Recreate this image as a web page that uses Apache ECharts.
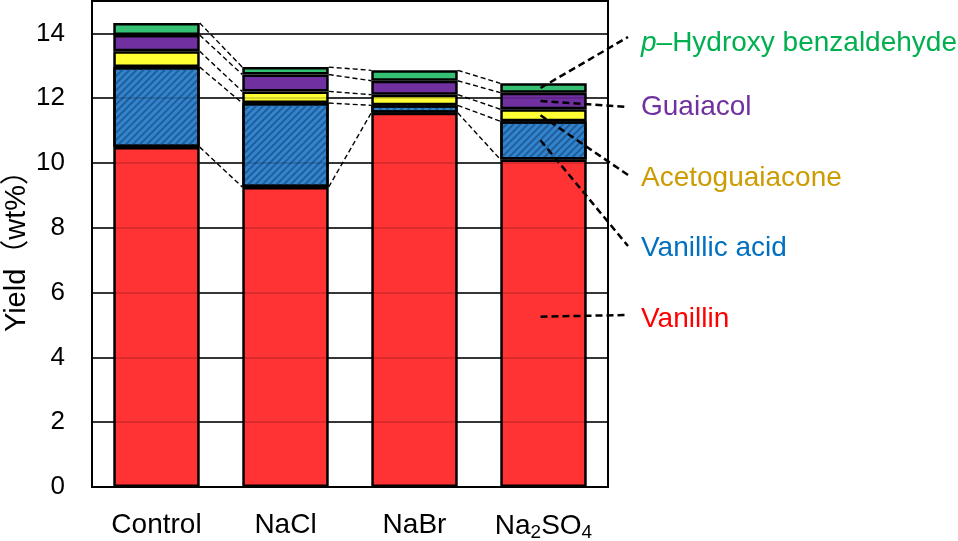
<!DOCTYPE html>
<html>
<head>
<meta charset="utf-8">
<script src="https://cdn.jsdelivr.net/npm/echarts@6/dist/echarts.min.js"></script>
<style>
html,body{margin:0;padding:0;background:#fff;}
#chart{width:958px;height:541px;}
</style>
</head>
<body>
<div id="chart"></div>
<script>
// ---- data ----
const categories = ['Control', 'NaCl', 'NaBr', 'Na2SO4'];
const vanillin       = [10.49, 9.26, 11.55, 10.11];
const vanillicAcid   = [2.47, 2.59, 0.23, 1.18];
const acetoguaiacone = [0.49, 0.36, 0.33, 0.37];
const guaiacol       = [0.50, 0.52, 0.43, 0.51];
const pHydroxy       = [0.37, 0.23, 0.32, 0.29];
const yTicks = [0, 2, 4, 6, 8, 10, 12, 14];
const seriesNames = ['Vanillin', 'Vanillic acid', 'Acetoguaiacone', 'Guaiacol', 'p-Hydroxy benzaldehyde'];

// ---- styling ----
const FONT = "'Liberation Sans', 'Noto Sans CJK JP', sans-serif";
const fills = ['#FF3333', '#3384CC', '#FFFF33', '#7030A0', '#35C073'];
const textColors = ['#FF0000', '#0070C0', '#CC9C00', '#7030A0', '#00B050'];
const labelY = [318, 247, 177, 106, 42];   // label centres (layout)
const leaderEndY = [315, 246, 175, 107, 37];
const leaderFrac = [0.52, 0.5, 0.5, 0.5, 0.5];
const BAR_FRAC = 0.67;

const layers = [vanillin, vanillicAcid, acetoguaiacone, guaiacol, pHydroxy];
// cumulative tops
const cum = [];
layers.forEach((arr, k) => {
  cum.push(arr.map((v, i) => (k ? cum[k - 1][i] : 0) + v));
});

const connectorData = [];
for (let k = 0; k < cum.length; k++) {
  for (let i = 0; i < categories.length - 1; i++) {
    connectorData.push([i, cum[k][i], cum[k][i + 1]]);
  }
}
const last = categories.length - 1;
const leaderData = layers.map((arr, k) => [last, (k ? cum[k - 1][last] : 0) + arr[last] * leaderFrac[k], k]);

const chart = echarts.init(document.getElementById('chart'), null, {renderer: 'canvas'});

const barSeries = layers.map((arr, k) => {
  const s = {
    name: seriesNames[k],
    type: 'bar',
    stack: 'total',
    barWidth: (BAR_FRAC * 100) + '%',
    data: arr,
    itemStyle: {color: fills[k], borderColor: '#000', borderWidth: 2.5},
    emphasis: {disabled: true},
    z: 2
  };
  if (k === 1) {
    s.itemStyle.decal = {
      symbol: 'rect', symbolSize: 1,
      dashArrayX: [1, 0], dashArrayY: [2, 3],
      rotation: -Math.PI / 4,
      color: '#1E5E9C'
    };
  }
  return s;
});

// overlay grid lines (darken bars where grid lines pass)
barSeries[4].markLine = {
  silent: true, symbol: 'none', label: {show: false},
  lineStyle: {color: 'rgba(0,0,0,0.2)', width: 1.5, type: 'solid'},
  data: yTicks.filter(v => v > 0).map(v => ({yAxis: v}))
};

const labelGraphics = seriesNames.map((n, k) => {
  const isP = k === 4;
  return {
    type: 'text',
    left: 641,
    top: labelY[k] - 13,
    style: {
      text: isP ? '{it|p}–Hydroxy benzaldehyde' : n,
      fill: textColors[k],
      font: '28px ' + FONT,
      rich: isP ? {it: {fontStyle: 'italic', fontSize: 28, fontFamily: FONT, fill: textColors[k]}} : undefined
    }
  };
});

chart.setOption({
  animation: false,
  backgroundColor: '#fff',
  grid: {left: 92, right: 350, top: 1, bottom: 54, outerBoundsMode: 'none', containLabel: false,
    show: true, borderColor: '#000', borderWidth: 2, backgroundColor: 'transparent'},
  xAxis: {
    type: 'category',
    data: categories,
    axisLine: {lineStyle: {color: '#000', width: 2}},
    axisTick: {show: false},
    axisLabel: {
      color: '#000', fontSize: 28, fontFamily: FONT, margin: 24, interval: 0, hideOverlap: false,
      formatter: v => v === 'Na2SO4' ? 'Na{sub|2}SO{sub|4}' : v,
      rich: {sub: {fontSize: 19, fontFamily: FONT, color: '#000', padding: [12, 0, 0, 0]}}
    }
  },
  yAxis: {
    type: 'value',
    min: 0, max: 15, interval: 2,
    name: 'Yield（wt%）',
    nameLocation: 'middle',
    nameGap: 60,
    nameMoveOverlap: false,
    nameTextStyle: {color: '#000', fontSize: 29, fontFamily: FONT},
    axisLine: {show: true, lineStyle: {color: '#000', width: 2}},
    axisTick: {show: false},
    axisLabel: {color: '#000', fontSize: 26, fontFamily: FONT, margin: 27, showMaxLabel: false,
      formatter: v => yTicks.indexOf(v) >= 0 ? String(v) : ''},
    splitLine: {show: true, lineStyle: {color: '#000', width: 1.5}}
  },
  series: barSeries.concat([
    {
      type: 'custom',
      name: 'connectors',
      data: connectorData,
      encode: {x: 0, y: 1},
      silent: true,
      z: 3,
      renderItem: (params, api) => {
        const i = api.value(0);
        const p1 = api.coord([i, api.value(1)]);
        const p2 = api.coord([i + 1, api.value(2)]);
        const hw = api.size([1, 0])[0] * BAR_FRAC / 2;
        return {
          type: 'line',
          shape: {x1: p1[0] + hw, y1: p1[1], x2: p2[0] - hw, y2: p2[1]},
          style: {stroke: '#000', lineWidth: 1.4, lineDash: [5, 3], fill: null}
        };
      }
    },
    {
      type: 'custom',
      name: 'leaders',
      data: leaderData,
      encode: {x: 0, y: 1},
      silent: true,
      clip: false,
      z: 4,
      renderItem: (params, api) => {
        const p1 = api.coord([api.value(0), api.value(1)]);
        const k = api.value(2);
        const xEnd = params.coordSys.x + params.coordSys.width + 20;
        return {
          type: 'line',
          shape: {x1: p1[0] - 3, y1: p1[1], x2: xEnd, y2: leaderEndY[k]},
          style: {stroke: '#000', lineWidth: 2.5, lineDash: [7, 4], fill: null}
        };
      }
    }
  ]),
  graphic: labelGraphics
});
</script>
</body>
</html>
